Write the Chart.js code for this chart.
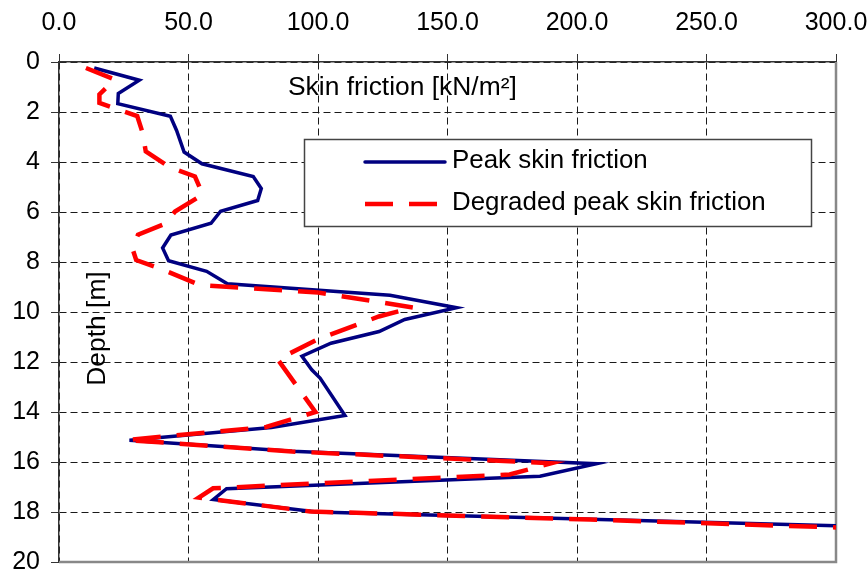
<!DOCTYPE html>
<html>
<head>
<meta charset="utf-8">
<title>Skin friction vs depth</title>
<script src="https://cdn.jsdelivr.net/npm/chart.js@4.4.1/dist/chart.umd.min.js"></script>
<style>
    html, body { margin: 0; padding: 0; background: #fff; }
    #wrap { width: 868px; height: 569px; }
</style>
</head>
<body>
<div id="wrap"><canvas id="frictionChart" width="868" height="569"></canvas></div>
<script>
// Values: skin friction in kN/m², depth in m
const peakFriction = [13.6, 31.0, 22.9, 22.7, 43.0, 45.4, 48.3, 55.2, 75.0, 78.1, 76.7, 62.4, 58.7, 43.2, 40.0, 42.3, 57.0, 65.0, 127.8, 153.5, 133.5, 123.6, 105.0, 93.8, 97.6, 100.8, 110.4, 82.0, 27.2, 90.0, 207.5, 185.7, 64.7, 59.6, 99.5, 301.0];
const peakDepth = [0.24, 0.73, 1.26, 1.67, 2.17, 2.74, 3.6, 4.07, 4.58, 5.06, 5.54, 5.97, 6.45, 6.92, 7.44, 7.95, 8.37, 8.87, 9.33, 9.83, 10.3, 10.78, 11.25, 11.77, 12.31, 12.64, 14.14, 14.62, 15.13, 15.57, 16.07, 16.57, 17.07, 17.5, 18.0, 18.55];

const degradedFriction = [10.4, 21.5, 15.6, 15.6, 30.2, 32.3, 33.5, 43.0, 52.5, 55.5, 44.8, 41.0, 30.5, 28.3, 29.8, 40.0, 54.4, 100.0, 136.8, 123.5, 99.5, 84.5, 99.0, 80.0, 26.0, 90.0, 190.0, 174.0, 59.5, 54.0, 97.0, 205.0, 301.0];
const degradedDepth = [0.24, 0.7, 1.3, 1.64, 2.16, 2.84, 3.58, 4.22, 4.58, 5.3, 5.98, 6.47, 6.91, 7.44, 7.92, 8.3, 8.92, 9.22, 9.82, 10.18, 11.11, 11.9, 14.0, 14.6, 15.12, 15.58, 16.05, 16.5, 17.05, 17.42, 17.98, 18.3, 18.62];

const frictionTicks = [0, 50, 100, 150, 200, 250, 300];
const depthTicks = [0, 2, 4, 6, 8, 10, 12, 14, 16, 18, 20];

const seriesNames = ['Peak skin friction', 'Degraded peak skin friction'];
const xTitle = 'Skin friction [kN/m²]';
const yTitle = 'Depth [m]';

const FONT = '"Liberation Sans", Arial, sans-serif';
Chart.defaults.font.family = FONT;
Chart.defaults.color = '#000';

// Titles inside the plot, legend box and the grey right/bottom frame
const extras = {
    id: 'extras',
    beforeDatasetsDraw(chart) {
        const ctx = chart.ctx;
        const a = chart.chartArea;
        ctx.save();
        ctx.strokeStyle = '#888';
        ctx.lineWidth = 2.5;
        ctx.beginPath();
        ctx.moveTo(a.left, a.bottom);
        ctx.lineTo(a.right, a.bottom);
        ctx.lineTo(a.right, a.top);
        ctx.stroke();

        ctx.fillStyle = '#000';
        ctx.font = '26.4px ' + FONT;
        ctx.textBaseline = 'alphabetic';
        ctx.textAlign = 'left';
        ctx.fillText(xTitle, 288, 95);

        ctx.translate(104.5, 328.5);
        ctx.rotate(-Math.PI / 2);
        ctx.textAlign = 'center';
        ctx.fillText(yTitle, 0, 0);
        ctx.restore();
    },
    afterDatasetsDraw(chart) {
        const ctx = chart.ctx;
        ctx.save();
        ctx.fillStyle = '#fff';
        ctx.fillRect(304, 139, 508, 88);
        ctx.strokeStyle = '#444';
        ctx.lineWidth = 1.5;
        ctx.strokeRect(304.5, 139.5, 507, 87);

        const rows = [162, 204];
        chart.data.datasets.slice().sort((p, q) => p.legendRow - q.legendRow).forEach((ds, i) => {
            ctx.beginPath();
            ctx.strokeStyle = ds.borderColor;
            ctx.lineWidth = ds.borderWidth;
            ctx.lineCap = ds.borderDash.length ? 'butt' : 'round';
            ctx.setLineDash(ds.borderDash);
            ctx.moveTo(365, rows[i]);
            ctx.lineTo(ds.borderDash.length ? 438 : 445, rows[i]);
            ctx.stroke();
            ctx.setLineDash([]);
            ctx.fillStyle = '#000';
            ctx.font = '25.9px ' + FONT;
            ctx.textBaseline = 'middle';
            ctx.textAlign = 'left';
            ctx.fillText(ds.label, 452, rows[i] - 1.5);
        });
        ctx.restore();
    }
};

const ctx = document.getElementById('frictionChart').getContext('2d');
const chart = new Chart(ctx, {
    type: 'scatter',
    data: {
        datasets: [{
            label: seriesNames[1],
            legendRow: 1,
            data: degradedFriction.map((x, i) => ({ x: x, y: degradedDepth[i] })),
            showLine: true,
            borderColor: '#ff0000',
            borderWidth: 4.5,
            borderDash: [28, 16],
            pointRadius: 0,
            tension: 0,
            order: 0
        }, {
            label: seriesNames[0],
            legendRow: 0,
            data: peakFriction.map((x, i) => ({ x: x, y: peakDepth[i] })),
            showLine: true,
            borderColor: '#000080',
            borderWidth: 3.5,
            borderDash: [],
            pointRadius: 0,
            tension: 0,
            order: 1
        }]
    },
    options: {
        responsive: false,
        animation: false,
        events: [],
        devicePixelRatio: 1,
        layout: {
            padding: { left: 0, top: 0, right: 32, bottom: 7 }
        },
        plugins: {
            legend: { display: false },
            tooltip: { enabled: false }
        },
        scales: {
            x: {
                type: 'linear',
                position: 'top',
                min: 0,
                max: 300,
                afterBuildTicks: (scale) => {
                    scale.ticks = frictionTicks.map(v => ({ value: v }));
                },
                afterFit: (scale) => {
                    scale.height = 62;
                    scale.paddingLeft = 0;
                    scale.paddingRight = 0;
                },
                ticks: {
                    callback: (v) => Number(v).toFixed(1),
                    font: { size: 25 },
                    color: '#000',
                    padding: 16,
                    maxRotation: 0,
                    autoSkip: false
                },
                grid: {
                    color: '#1a1a1a',
                    lineWidth: 1,
                    tickLength: 8,
                    tickColor: '#333',
                    tickBorderDash: []
                },
                border: {
                    display: true,
                    color: '#333',
                    width: 1.5,
                    dash: [7, 4]
                }
            },
            y: {
                type: 'linear',
                reverse: true,
                min: 0,
                max: 20,
                afterBuildTicks: (scale) => {
                    scale.ticks = depthTicks.map(v => ({ value: v }));
                },
                afterFit: (scale) => {
                    scale.width = 59;
                    scale.paddingTop = 0;
                    scale.paddingBottom = 0;
                },
                ticks: {
                    font: { size: 25 },
                    color: '#000',
                    padding: 11,
                    autoSkip: false
                },
                grid: {
                    color: '#1a1a1a',
                    lineWidth: 1,
                    tickLength: 8,
                    tickColor: '#333',
                    tickBorderDash: []
                },
                border: {
                    display: true,
                    color: '#333',
                    width: 1.5,
                    dash: [7, 4]
                }
            }
        }
    },
    plugins: [extras]
});
</script>
</body>
</html>
